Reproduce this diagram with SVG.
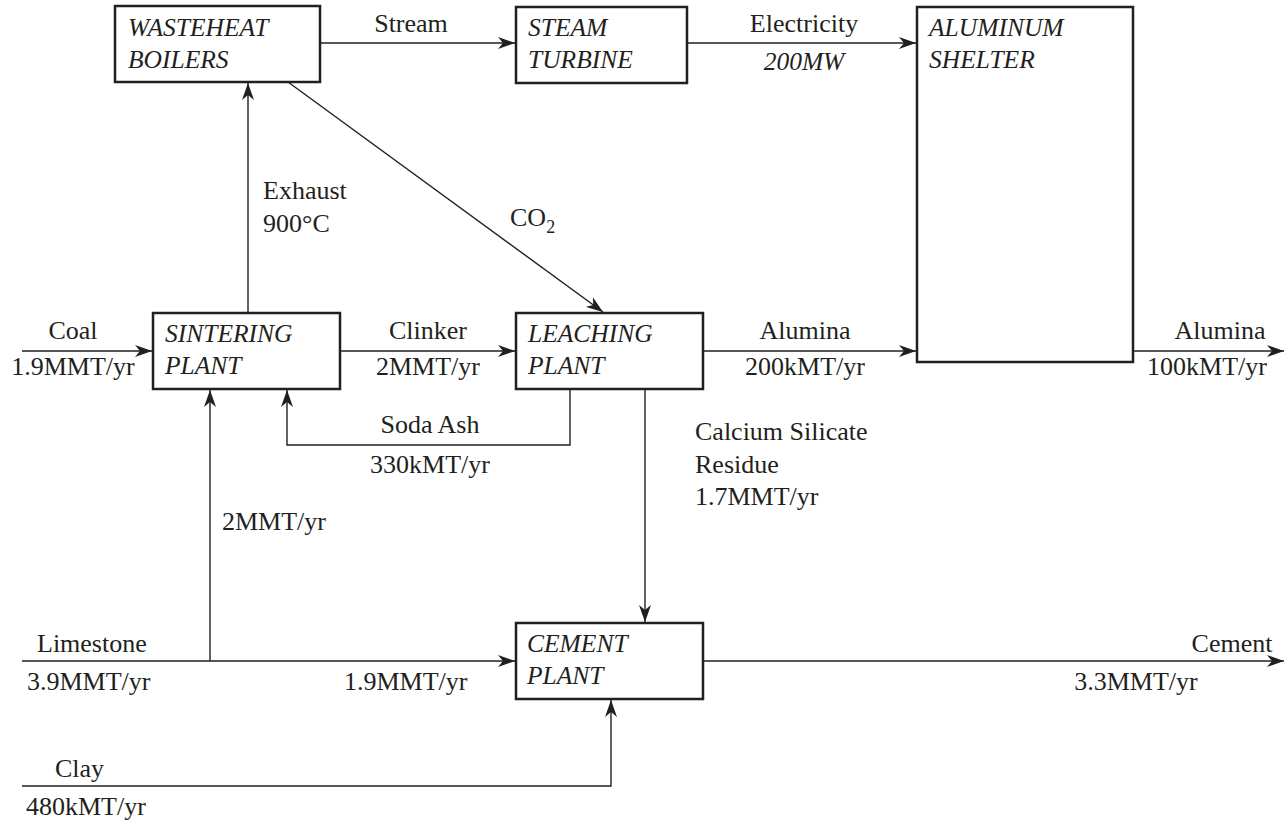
<svg xmlns="http://www.w3.org/2000/svg" width="1284" height="823" viewBox="0 0 1284 823">
<style>
.box{fill:#fff;stroke:#231f20;stroke-width:2.5}
.ln{fill:none;stroke:#231f20;stroke-width:1.4}
.t{font-family:"Liberation Serif","Times New Roman",serif;font-size:26px;fill:#231f20}
.bt{font-family:"Liberation Serif","Times New Roman",serif;font-size:25.5px;font-style:italic;fill:#231f20}
.m{text-anchor:middle}
</style>
<defs>
<marker id="ah" markerUnits="userSpaceOnUse" markerWidth="18" markerHeight="12" refX="17" refY="6" orient="auto">
<path d="M0,0 L17,6 L0,12 L5,6 z" fill="#231f20"/>
</marker>
</defs>
<g id="connectors">
<line class="ln" x1="320" y1="43" x2="515" y2="43" marker-end="url(#ah)"/>
<line class="ln" x1="687" y1="43" x2="916" y2="43" marker-end="url(#ah)"/>
<line class="ln" x1="248" y1="313" x2="248" y2="83" marker-end="url(#ah)"/>
<line class="ln" x1="288" y1="82" x2="603" y2="312" marker-end="url(#ah)"/>
<line class="ln" x1="22" y1="351" x2="152" y2="351" marker-end="url(#ah)"/>
<line class="ln" x1="340" y1="351" x2="515" y2="351" marker-end="url(#ah)"/>
<line class="ln" x1="703" y1="351" x2="916" y2="351" marker-end="url(#ah)"/>
<line class="ln" x1="1133" y1="351" x2="1284" y2="351" marker-end="url(#ah)"/>
<polyline class="ln" points="570,389 570,445 287,445 287,390" marker-end="url(#ah)"/>
<line class="ln" x1="22" y1="661" x2="515" y2="661" marker-end="url(#ah)"/>
<line class="ln" x1="210" y1="661" x2="210" y2="390" marker-end="url(#ah)"/>
<line class="ln" x1="645" y1="389" x2="645" y2="622" marker-end="url(#ah)"/>
<line class="ln" x1="703" y1="661" x2="1284" y2="661" marker-end="url(#ah)"/>
<polyline class="ln" points="22,786 611,786 611,700" marker-end="url(#ah)"/>
</g>
<g id="wasteheat">
<rect class="box" x="115" y="6" width="205" height="76"/>
<text class="bt" x="128" y="36">WASTEHEAT</text>
<text class="bt" x="128" y="68">BOILERS</text>
</g>
<g id="steam">
<rect class="box" x="516" y="7" width="171" height="76"/>
<text class="bt" x="528" y="36">STEAM</text>
<text class="bt" x="528" y="68">TURBINE</text>
</g>
<g id="aluminum">
<rect class="box" x="917" y="7" width="216" height="355"/>
<text class="bt" x="929" y="36">ALUMINUM</text>
<text class="bt" x="929" y="68">SHELTER</text>
</g>
<g id="sintering">
<rect class="box" x="153" y="313" width="187" height="76"/>
<text class="bt" x="165" y="342">SINTERING</text>
<text class="bt" x="165" y="374">PLANT</text>
</g>
<g id="leaching">
<rect class="box" x="516" y="313" width="187" height="76"/>
<text class="bt" x="528" y="342">LEACHING</text>
<text class="bt" x="528" y="374">PLANT</text>
</g>
<g id="cement">
<rect class="box" x="516" y="623" width="187" height="76"/>
<text class="bt" x="527" y="652">CEMENT</text>
<text class="bt" x="527" y="684">PLANT</text>
</g>
<g id="labels">
<text class="t m" x="411" y="32">Stream</text>
<text class="t m" x="804" y="32">Electricity</text>
<text class="bt m" x="804" y="70">200MW</text>
<text class="t" x="263" y="199">Exhaust</text>
<text class="t" x="263" y="232">900°C</text>
<text class="t" x="510" y="226">CO<tspan font-size="18" dy="7">2</tspan></text>
<text class="t m" x="73" y="339">Coal</text>
<text class="t m" x="73" y="375">1.9MMT/yr</text>
<text class="t m" x="428" y="339">Clinker</text>
<text class="t m" x="428" y="375">2MMT/yr</text>
<text class="t m" x="805" y="339">Alumina</text>
<text class="t m" x="805" y="375">200kMT/yr</text>
<text class="t m" x="1220" y="339">Alumina</text>
<text class="t m" x="1207" y="375">100kMT/yr</text>
<text class="t m" x="430" y="433">Soda Ash</text>
<text class="t m" x="430" y="473">330kMT/yr</text>
<text class="t" x="695" y="440">Calcium Silicate</text>
<text class="t" x="695" y="473">Residue</text>
<text class="t" x="695" y="505">1.7MMT/yr</text>
<text class="t" x="222" y="530">2MMT/yr</text>
<text class="t" x="37" y="652">Limestone</text>
<text class="t" x="27" y="690">3.9MMT/yr</text>
<text class="t" x="344" y="690">1.9MMT/yr</text>
<text class="t m" x="1232" y="652">Cement</text>
<text class="t m" x="1136" y="690">3.3MMT/yr</text>
<text class="t" x="55" y="777">Clay</text>
<text class="t" x="26" y="815">480kMT/yr</text>
</g>
</svg>
